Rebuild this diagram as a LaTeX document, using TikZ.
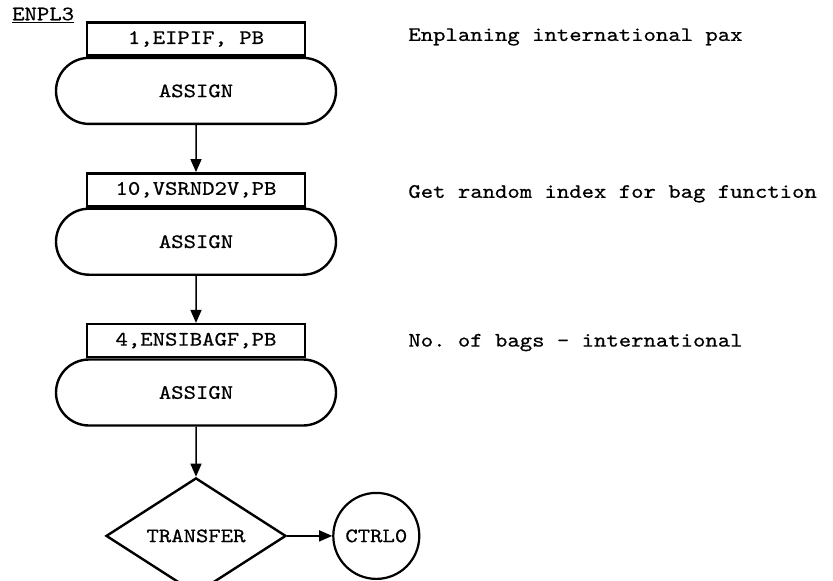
\documentclass[tikz,border=0pt]{standalone}
\usepackage{fontspec}
\setmonofont{lmmono10-regular.otf}[FakeStretch=1.15,FakeBold=0.6]
\usetikzlibrary{arrows.meta,positioning,shapes.misc,shapes.geometric}
\tikzset{
  every picture/.style={font=\ttfamily\fontsize{20.5}{23}\selectfont},
  parm/.style={draw,line width=2.4pt,minimum width=218pt,minimum height=33pt,inner sep=0pt},
  blk/.style={draw,line width=2.4pt,rounded rectangle,minimum width=280pt,minimum height=66pt,inner sep=0pt},
  xfer/.style={draw,line width=2.4pt,diamond,aspect=1.55,minimum width=180pt,minimum height=116pt,inner sep=0pt},
  dest/.style={draw,line width=2.2pt,circle,minimum size=86pt,inner sep=0pt},
  note/.style={anchor=west,inner sep=0pt},
  flow/.style={line width=1.5pt,-{Triangle[length=13pt,width=11pt]}},
}
\begin{document}
\begin{tikzpicture}
  \useasboundingbox (0,0) rectangle (833pt,-581pt);
  \node[note] (tag) at (12pt,-15pt) {\underline{ENPL3}};
  % assign blocks
  \node[parm] (prm1) at (196pt,-39pt) {1,EIPIF, PB};
  \node[blk,below=0pt of prm1] (asg1) {ASSIGN};
  \node[parm,below=47pt of asg1] (prm2) {10,VSRND2V,PB};
  \node[blk,below=0pt of prm2] (asg2) {ASSIGN};
  \node[parm,below=47pt of asg2] (prm3) {4,ENSIBAGF,PB};
  \node[blk,below=0pt of prm3] (asg3) {ASSIGN};
  % transfer
  \node[xfer,below=50pt of asg3] (trf) {TRANSFER};
  \node[dest,right=45pt of trf] (ctrl) {CTRL0};
  \draw[flow] (asg1) -- (prm2);
  \draw[flow] (asg2) -- (prm3);
  \draw[flow] (asg3) -- (trf);
  \draw[flow] (trf) -- (ctrl);
  % comments
  \node[note,right=102pt of prm1,yshift=2pt] (cm1) {Enplaning international pax};
  \node[note,right=102pt of prm2,yshift=-4pt] (cm2) {Get random index for bag function};
  \node[note,right=102pt of prm3,yshift=-2pt] (cm3) {No. of bags - international};
\end{tikzpicture}
\end{document}
